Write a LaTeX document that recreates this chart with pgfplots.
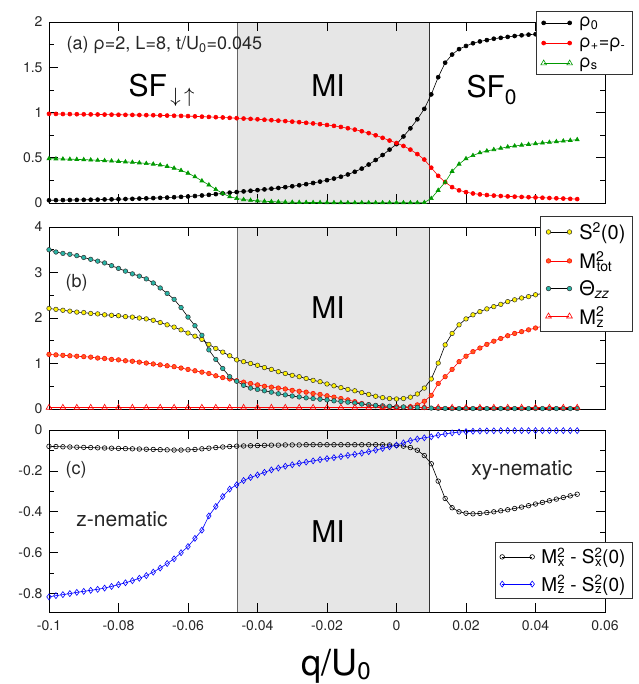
\documentclass[border=0pt]{standalone}
\usepackage{pgfplots}
\pgfplotsset{compat=1.18}
\usepackage{pgfplotstable}
\usepackage{fontspec}
\setmainfont{TeX Gyre Heros}
\newcommand\supsub[2]{\textsuperscript{\rlap{#1}}\textsubscript{#2}}
\definecolor{mifill}{RGB}{230,230,230}
\definecolor{mygreen}{RGB}{0,153,0}
\definecolor{myteal}{RGB}{40,180,165}
\definecolor{myorange}{RGB}{255,90,30}
\definecolor{bnd}{RGB}{100,100,100}

\pgfplotstableread{
q r0 rp rs
-0.100 0.030 0.985 0.490
-0.098 0.031 0.984 0.488
-0.096 0.032 0.983 0.486
-0.094 0.033 0.982 0.484
-0.092 0.034 0.981 0.482
-0.090 0.035 0.980 0.479
-0.088 0.036 0.979 0.476
-0.086 0.037 0.978 0.472
-0.084 0.039 0.977 0.468
-0.082 0.040 0.976 0.464
-0.080 0.042 0.975 0.460
-0.078 0.044 0.974 0.455
-0.076 0.046 0.973 0.450
-0.074 0.049 0.972 0.444
-0.072 0.051 0.971 0.437
-0.070 0.054 0.970 0.430
-0.068 0.057 0.968 0.420
-0.066 0.060 0.966 0.405
-0.064 0.064 0.964 0.385
-0.062 0.068 0.962 0.360
-0.060 0.072 0.960 0.330
-0.058 0.077 0.957 0.290
-0.056 0.083 0.954 0.245
-0.054 0.090 0.951 0.200
-0.052 0.098 0.948 0.150
-0.050 0.106 0.945 0.105
-0.048 0.114 0.941 0.070
-0.046 0.121 0.937 0.050
-0.044 0.128 0.933 0.038
-0.042 0.135 0.929 0.030
-0.040 0.142 0.925 0.024
-0.038 0.150 0.920 0.019
-0.036 0.158 0.915 0.015
-0.034 0.166 0.910 0.012
-0.032 0.175 0.905 0.010
-0.030 0.185 0.899 0.008
-0.028 0.196 0.893 0.007
-0.026 0.208 0.886 0.006
-0.024 0.221 0.879 0.005
-0.022 0.236 0.871 0.005
-0.020 0.252 0.862 0.004
-0.018 0.270 0.852 0.004
-0.016 0.290 0.840 0.004
-0.014 0.315 0.826 0.003
-0.012 0.345 0.811 0.003
-0.010 0.380 0.793 0.003
-0.008 0.425 0.772 0.003
-0.006 0.475 0.748 0.003
-0.004 0.530 0.720 0.003
-0.002 0.590 0.690 0.003
0.000 0.650 0.663 0.003
0.002 0.735 0.630 0.003
0.004 0.825 0.590 0.003
0.006 0.925 0.540 0.003
0.008 1.040 0.480 0.005
0.010 1.200 0.390 0.050
0.012 1.390 0.300 0.140
0.014 1.550 0.230 0.230
0.016 1.640 0.175 0.350
0.018 1.700 0.140 0.430
0.020 1.735 0.120 0.490
0.022 1.765 0.105 0.525
0.024 1.785 0.095 0.555
0.026 1.800 0.088 0.575
0.028 1.815 0.082 0.590
0.030 1.825 0.077 0.605
0.032 1.835 0.073 0.620
0.034 1.845 0.070 0.630
0.036 1.853 0.067 0.640
0.038 1.860 0.064 0.648
0.040 1.865 0.061 0.656
0.042 1.868 0.058 0.664
0.044 1.871 0.055 0.671
0.046 1.874 0.052 0.678
0.048 1.877 0.049 0.685
0.050 1.880 0.046 0.692
0.052 1.883 0.043 0.700
}\tabA

\pgfplotstableread{
q s2 mt th
-0.100 2.21 1.20 3.50
-0.098 2.19 1.19 3.45
-0.096 2.17 1.18 3.42
-0.094 2.15 1.17 3.40
-0.092 2.13 1.16 3.37
-0.090 2.12 1.15 3.33
-0.088 2.10 1.14 3.29
-0.086 2.09 1.12 3.25
-0.084 2.07 1.11 3.21
-0.082 2.06 1.09 3.15
-0.080 2.05 1.08 3.09
-0.078 2.03 1.06 3.03
-0.076 2.02 1.05 2.97
-0.074 2.00 1.03 2.92
-0.072 1.98 1.01 2.86
-0.070 1.95 0.99 2.77
-0.068 1.90 0.97 2.66
-0.066 1.85 0.95 2.54
-0.064 1.80 0.93 2.41
-0.062 1.74 0.90 2.23
-0.060 1.67 0.87 2.02
-0.058 1.60 0.84 1.83
-0.056 1.53 0.81 1.62
-0.054 1.42 0.78 1.30
-0.052 1.33 0.73 1.09
-0.050 1.25 0.69 0.89
-0.048 1.17 0.66 0.71
-0.046 1.08 0.62 0.61
-0.044 1.04 0.59 0.52
-0.042 1.00 0.56 0.46
-0.040 0.96 0.53 0.43
-0.038 0.91 0.50 0.40
-0.036 0.87 0.48 0.37
-0.034 0.82 0.46 0.335
-0.032 0.78 0.44 0.31
-0.030 0.74 0.41 0.285
-0.028 0.71 0.39 0.265
-0.026 0.67 0.37 0.245
-0.024 0.63 0.34 0.23
-0.022 0.60 0.32 0.215
-0.020 0.55 0.29 0.20
-0.018 0.51 0.26 0.18
-0.016 0.47 0.23 0.165
-0.014 0.43 0.20 0.15
-0.012 0.40 0.16 0.13
-0.010 0.36 0.12 0.11
-0.008 0.32 0.09 0.095
-0.006 0.28 0.07 0.08
-0.004 0.25 0.05 0.07
-0.002 0.23 0.04 0.06
0.000 0.22 0.035 0.05
0.002 0.23 0.04 0.045
0.004 0.26 0.05 0.04
0.006 0.33 0.09 0.035
0.008 0.46 0.17 0.03
0.010 0.66 0.30 0.02
0.012 1.01 0.56 0.015
0.014 1.41 0.71 0.012
0.016 1.66 0.87 0.01
0.018 1.85 1.04 0.01
0.020 1.98 1.16 0.01
0.022 2.07 1.26 0.01
0.024 2.14 1.34 0.01
0.026 2.20 1.42 0.01
0.028 2.25 1.49 0.01
0.030 2.30 1.55 0.01
0.032 2.36 1.61 0.01
0.034 2.40 1.66 0.01
0.036 2.44 1.70 0.01
0.038 2.47 1.74 0.01
0.040 2.51 1.78 0.01
0.042 2.54 1.82 0.01
0.044 2.57 1.85 0.01
0.046 2.59 1.87 0.01
0.048 2.61 1.89 0.01
0.050 2.63 1.91 0.01
0.052 2.65 1.93 0.01
}\tabB

\pgfplotstableread{
q mx mz
-0.100 -0.080 -0.816
-0.098 -0.081 -0.810
-0.096 -0.082 -0.805
-0.094 -0.083 -0.800
-0.092 -0.084 -0.794
-0.090 -0.085 -0.789
-0.088 -0.086 -0.784
-0.086 -0.087 -0.779
-0.084 -0.088 -0.773
-0.082 -0.089 -0.765
-0.080 -0.090 -0.756
-0.078 -0.091 -0.747
-0.076 -0.092 -0.737
-0.074 -0.093 -0.725
-0.072 -0.094 -0.712
-0.070 -0.095 -0.695
-0.068 -0.096 -0.675
-0.066 -0.097 -0.653
-0.064 -0.098 -0.630
-0.062 -0.098 -0.600
-0.060 -0.097 -0.570
-0.058 -0.095 -0.530
-0.056 -0.092 -0.490
-0.054 -0.089 -0.420
-0.052 -0.086 -0.374
-0.050 -0.083 -0.325
-0.048 -0.081 -0.289
-0.046 -0.079 -0.268
-0.044 -0.078 -0.247
-0.042 -0.077 -0.232
-0.040 -0.076 -0.220
-0.038 -0.075 -0.207
-0.036 -0.074 -0.195
-0.034 -0.074 -0.186
-0.032 -0.073 -0.177
-0.030 -0.073 -0.170
-0.028 -0.073 -0.163
-0.026 -0.072 -0.157
-0.024 -0.072 -0.151
-0.022 -0.072 -0.145
-0.020 -0.072 -0.140
-0.018 -0.072 -0.135
-0.016 -0.072 -0.130
-0.014 -0.072 -0.124
-0.012 -0.072 -0.119
-0.010 -0.072 -0.113
-0.008 -0.072 -0.106
-0.006 -0.072 -0.098
-0.004 -0.072 -0.090
-0.002 -0.073 -0.082
0.000 -0.075 -0.074
0.002 -0.079 -0.063
0.004 -0.086 -0.052
0.006 -0.099 -0.044
0.008 -0.125 -0.038
0.010 -0.165 -0.033
0.012 -0.250 -0.025
0.014 -0.335 -0.019
0.016 -0.380 -0.014
0.018 -0.400 -0.010
0.020 -0.407 -0.008
0.022 -0.410 -0.006
0.024 -0.408 -0.005
0.026 -0.404 -0.004
0.028 -0.400 -0.004
0.030 -0.395 -0.003
0.032 -0.390 -0.003
0.034 -0.384 -0.003
0.036 -0.377 -0.003
0.038 -0.370 -0.003
0.040 -0.362 -0.003
0.042 -0.354 -0.003
0.044 -0.346 -0.003
0.046 -0.338 -0.003
0.048 -0.330 -0.003
0.050 -0.322 -0.003
0.052 -0.314 -0.003
}\tabC

\pgfplotsset{
  panel/.style={
    scale only axis, width=556pt, clip=false, axis on top,
    anchor=south west,
    xmin=-0.1, xmax=0.06,
    xtick={-0.1,-0.08,-0.06,-0.04,-0.02,0,0.02,0.04,0.06},
    minor y tick num=1,
    major tick length=9pt, minor tick length=5pt,
    every tick/.style={black, line width=0.7pt},
    axis line style={black, line width=0.9pt},
    ticklabel style={font=\fontsize{14}{16}\selectfont, text=black!85},
    yticklabel style={xshift=-3pt},
    xticklabel style={yshift=-5pt},
    legend cell align=left,
  },
  lg/.style={draw=black!80, line width=0.8pt, fill=white, inner xsep=5pt, inner ysep=4pt, column sep=5pt},
}

\begin{document}
\begin{tikzpicture}
\useasboundingbox (-49pt,-72pt) rectangle (589pt,612pt);

% ---------- panel (a)
\begin{axis}[panel, at={(0pt,409pt)}, height=181pt,
  ymin=0, ymax=2, ytick={0,0.5,1,1.5,2}, yticklabels={0,0.5,1,1.5,2},
  xticklabels={},
  legend image code/.code={\draw plot coordinates {(0pt,0pt) (26pt,0pt)};},
  legend style={lg, row sep=5pt, at={(1.05,1.061)}, anchor=north east, font=\fontsize{18}{20}\selectfont}]
  \fill[mifill] (-0.0457,0) rectangle (0.0095,2);
  \draw[bnd, line width=1.2pt] (-0.0457,0) -- (-0.0457,2);
  \draw[black!80, line width=1pt] (0.0095,0) -- (0.0095,2);
  \addplot[black, line width=0.6pt, mark=*, mark size=2pt] table[x=q, y=r0] {\tabA};
  \addlegendentry{ρ\textsubscript{0}}
  \addplot[red, line width=0.6pt, mark=*, mark size=2pt] table[x=q, y=rp] {\tabA};
  \addlegendentry{ρ\textsubscript{+}=ρ\textsubscript{-}}
  \addplot[mygreen, line width=0.6pt, mark=triangle*, mark size=2.3pt, forget plot] table[x=q, y=rs] {\tabA};
  \addlegendimage{mygreen, line width=0.6pt, mark=triangle, mark size=3.2pt}
  \addlegendentry{ρ\textsubscript{s}}
\end{axis}

% ---------- panel (b)
\begin{axis}[panel, at={(0pt,203pt)}, height=182pt,
  ymin=0, ymax=4, ytick={0,1,2,3,4}, yticklabels={0,1,2,3,4},
  xticklabels={},
  legend image code/.code={\draw plot coordinates {(0pt,0pt) (21pt,0pt)};},
  legend style={lg, row sep=6pt, at={(1.05,1.060)}, anchor=north east, font=\fontsize{20}{22}\selectfont}]
  \fill[mifill] (-0.0457,0) rectangle (0.0095,4);
  \draw[bnd, line width=1.2pt] (-0.0457,0) -- (-0.0457,4);
  \draw[black!80, line width=1pt] (0.0095,0) -- (0.0095,4);
  \addplot[black, line width=0.6pt, mark=*, mark size=2.3pt, mark options={fill=yellow, draw=black!80, line width=0.5pt}] table[x=q, y=s2] {\tabB};
  \addlegendentry{S\textsuperscript{2}(0)}
  \addplot[red, line width=0.6pt, mark=*, mark size=2.3pt, mark options={fill=myorange, draw=red, line width=0.5pt}] table[x=q, y=mt] {\tabB};
  \addlegendentry{M\supsub{2}{tot}}
  \addplot[black, line width=0.6pt, mark=*, mark size=2.3pt, mark options={fill=myteal, draw=black!80, line width=0.5pt}] table[x=q, y=th] {\tabB};
  \addlegendentry{Θ\textsubscript{\itshape zz}}
  \addplot[red, line width=0.6pt, mark=triangle, mark size=3.3pt] coordinates {
    (-0.100,0.03) (-0.096,0.03) (-0.092,0.03) (-0.088,0.03) (-0.084,0.03) (-0.080,0.03)
    (-0.076,0.03) (-0.072,0.03) (-0.068,0.03) (-0.064,0.03) (-0.060,0.03) (-0.056,0.03)
    (-0.052,0.03) (-0.048,0.03) (-0.044,0.03) (-0.040,0.03) (-0.036,0.03) (-0.032,0.03)
    (-0.028,0.03) (-0.024,0.03) (-0.020,0.03) (-0.016,0.03) (-0.012,0.03) (-0.008,0.03)
    (-0.004,0.03) (0.000,0.03) (0.004,0.03) (0.008,0.03) (0.012,0.03) (0.016,0.03)
    (0.020,0.03) (0.024,0.03) (0.028,0.03) (0.032,0.03) (0.036,0.03) (0.040,0.03)
    (0.044,0.03) (0.048,0.03) (0.052,0.03)};
  \addlegendentry{M\supsub{2}{z}}
\end{axis}

% ---------- panel (c)
\begin{axis}[panel, at={(0pt,0pt)}, height=182pt,
  ymin=-0.89, ymax=0, ytick={-0.8,-0.6,-0.4,-0.2,0}, yticklabels={-0.8,-0.6,-0.4,-0.2,0},
  minor ytick={-0.7,-0.5,-0.3,-0.1}, minor y tick num=0,
  xticklabels={-0.1,-0.08,-0.06,-0.04,-0.02,0,0.02,0.04,0.06},
  legend image code/.code={\draw plot coordinates {(0pt,0pt) (30pt,0pt)};},
  legend style={lg, row sep=6pt, at={(1.05,0.071)}, anchor=south east, font=\fontsize{19}{21}\selectfont}]
  \fill[mifill] (-0.0457,-0.89) rectangle (0.0095,0);
  \draw[bnd, line width=1.2pt] (-0.0457,-0.89) -- (-0.0457,0);
  \draw[black!80, line width=1pt] (0.0095,-0.89) -- (0.0095,0);
  \addplot[black, line width=0.6pt, mark=o, mark size=2.3pt, mark options={line width=0.6pt}] table[x=q, y=mx] {\tabC};
  \addlegendentry{M\supsub{2}{x} - S\supsub{2}{x}(0)}
  \addplot[blue, line width=0.6pt, mark=diamond, mark size=3pt, mark options={line width=0.6pt}] table[x=q, y=mz] {\tabC};
  \addlegendentry{M\supsub{2}{z} - S\supsub{2}{z}(0)}
\end{axis}

% ---------- annotations
\node[anchor=west, text=black!85, font=\fontsize{18}{20}\selectfont] at (14pt,567pt) {(a) ρ=2, L=8, t/U\textsubscript{0}=0.045};
\node[anchor=base west, text=black, font=\fontsize{30}{32}\selectfont] at (76pt,515pt) {SF\textsubscript{\,$\downarrow\,\uparrow$}};
\node[text=black, font=\fontsize{30}{32}\selectfont] at (279pt,526pt) {MI};
\node[anchor=base west, text=black, font=\fontsize{30}{32}\selectfont] at (414pt,514pt) {SF\textsubscript{0}};
\node[anchor=west, text=black!85, font=\fontsize{18}{20}\selectfont] at (13pt,329pt) {(b)};
\node[text=black, font=\fontsize{30}{32}\selectfont] at (279pt,304pt) {MI};
\node[anchor=west, text=black!85, font=\fontsize{18}{20}\selectfont] at (13pt,142pt) {(c)};
\node[text=black!85, font=\fontsize{21}{23}\selectfont] at (73pt,93pt) {z-nematic};
\node[text=black, font=\fontsize{30}{32}\selectfont] at (279pt,80pt) {MI};
\node[text=black!85, font=\fontsize{21}{23}\selectfont] at (473pt,142pt) {xy-nematic};
\node[anchor=base, text=black, font=\fontsize{36}{38}\selectfont] at (287pt,-63pt) {q/U\raisebox{-0.12em}{\fontsize{24}{26}\selectfont 0}};
\end{tikzpicture}
\end{document}
